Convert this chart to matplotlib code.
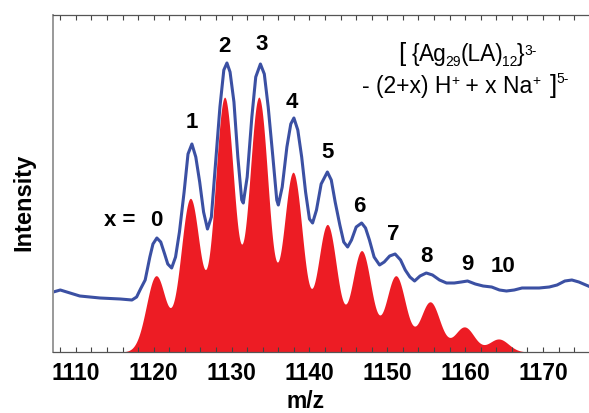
import numpy as np
import matplotlib
matplotlib.use("Agg")
import matplotlib.pyplot as plt

plt.rcParams['font.family'] = ['Liberation Sans', 'DejaVu Sans']

# ---- data ----
# simulated pattern: peak centres (m/z) and relative heights
sim_mz = [1120.3, 1124.7, 1129.1, 1133.5, 1137.9, 1142.3, 1146.7, 1151.1, 1155.5, 1159.9, 1164.3]
sim_height = [76, 153, 254, 254, 179, 127, 101, 76, 50, 25, 13]
sim_sigma = 1.25

exp_mz = [1107.1, 1108.0, 1110.5, 1113.1, 1115.7, 1117.2, 1117.8, 1118.3, 1118.9, 1119.5,
          1119.9, 1120.4, 1120.9, 1121.4, 1121.8, 1122.3, 1122.8, 1123.3, 1123.9, 1124.4,
          1124.9, 1125.4, 1125.9, 1126.4, 1126.9, 1127.4, 1127.9, 1128.5, 1129.0, 1129.4,
          1129.8, 1130.3, 1130.8, 1131.3, 1131.5, 1132.0, 1132.6, 1133.1, 1133.7, 1134.2,
          1134.7, 1135.3, 1135.8, 1136.0, 1136.5, 1137.1, 1137.6, 1138.0, 1138.5, 1139.0,
          1139.5, 1140.0, 1140.4, 1140.9, 1141.5, 1142.3, 1142.8, 1143.3, 1143.9, 1144.4,
          1144.9, 1145.4, 1146.0, 1146.7, 1147.2, 1147.7, 1148.3, 1149.0, 1149.6, 1150.3,
          1151.0, 1151.7, 1152.3, 1152.9, 1153.5, 1154.2, 1155.0, 1155.8, 1156.7, 1157.6,
          1158.6, 1159.5, 1160.3, 1161.3, 1162.3, 1163.4, 1164.4, 1165.3, 1166.3, 1167.3,
          1168.2, 1169.5, 1170.8, 1171.8, 1172.8, 1173.7, 1174.6, 1175.8]
exp_int = [60, 62, 56, 54, 53, 52, 55, 63, 72, 95,
           108, 114, 110, 98, 88, 84, 95, 120, 160, 198,
           208, 195, 170, 140, 123, 135, 185, 245, 282, 289,
           280, 250, 195, 152, 149, 175, 235, 275, 288, 278,
           245, 195, 152, 147, 165, 205, 228, 234, 222, 195,
           160, 133, 129, 142, 168, 180, 172, 150, 127, 110,
           105, 112, 125, 129, 124, 112, 95, 87, 90, 96,
           98, 92, 82, 75, 71, 76, 79, 77, 72, 69,
           69, 70, 71, 68, 66, 65, 62, 61, 62, 64,
           64, 64, 65, 67, 71, 72, 70, 66]

peak_labels = ['0', '1', '2', '3', '4', '5', '6', '7', '8', '9', '10']
xticks = [1110, 1120, 1130, 1140, 1150, 1160, 1170]

# ---- figure ----
W, H = 589, 413
fig = plt.figure(figsize=(W / 100, H / 100), dpi=100)
ax = fig.add_axes([53.3 / W, 1 - 352 / H, 1 - 53.3 / W, (352 - 15) / H])

grid = np.linspace(1106, 1177, 3000)
sim = np.zeros_like(grid)
for m, h in zip(sim_mz, sim_height):
    sim += h * np.exp(-(grid - m) ** 2 / (2 * sim_sigma ** 2))
ax.fill_between(grid, 0, sim, color='#ED1C24', linewidth=0)
ax.plot(exp_mz, exp_int, color='#3B50A3', lw=2.2, solid_joinstyle='round')

ax.set_xlim(1107.1, 1175.9)
ax.set_ylim(0, 337)
ax.set_yticks([])
ax.set_xticks(xticks)
ax.set_xticks(np.arange(1108, 1176, 2), minor=True)
ax.tick_params(axis='x', which='both', direction='in', top=True, bottom=True,
               length=3.5, width=0.8, color='#444444')
ax.tick_params(axis='x', which='major', labelsize=16.5, pad=7)
for lab in ax.get_xticklabels():
    lab.set_fontweight('bold')
ax.spines['right'].set_visible(False)
ax.spines['left'].set_color('#999999')
ax.spines['left'].set_linewidth(1.4)
for s in ('top', 'bottom'):
    ax.spines[s].set_color('#555555')
    ax.spines[s].set_linewidth(0.9)

fig.text(24 / W, 1 - 202 / H, 'Intensity', rotation=90, fontsize=17, fontweight='bold',
         ha='center', va='center')
fig.text(306 / W, 1 - 401 / H, 'm/z', fontsize=16.5, fontweight='bold',
         ha='center', va='center')

# peak labels
lab_x = [1120.27, 1124.9, 1129.1, 1133.9, 1137.7, 1142.3, 1146.4, 1150.8, 1155.0, 1160.3, 1164.9]
lab_y = [131, 230, 306, 307, 249, 200, 145, 118, 96, 88, 85]
for t, lx, ly in zip(peak_labels, lab_x, lab_y):
    ax.text(lx, ly, t, fontsize=16, fontweight='bold', ha='center', va='center')
ax.text(1117.6, 131, 'x =', fontsize=16, fontweight='bold', ha='right', va='center')

# formula annotation, built piece by piece (pixel coords from top-left)
renderer = fig.canvas.get_renderer()


def chain(x0, base, pieces):
    x = x0
    for txt, size, rise, gap in pieces:
        x += gap
        t = fig.text(x / W, 1 - (base - rise) / H, txt, fontsize=size,
                     ha='left', va='baseline')
        bb = t.get_window_extent(renderer)
        x = bb.x1


f1, f2, ss = 16.3, 16.5, 10
chain(398, 61, [('[', 18.5, 0, 0), ('{', f1, 0, 6), ('Ag', f1, 0, 0), ('29', ss, -5, -1.5),
                ('(LA)', f1, 0, -0.5), ('12', ss, -5, -1), ('}', f1, 0, -0.5), ('3-', ss, 6, 0)])
chain(362, 93, [('- (2+x) H', f2, 0, 0), ('+', ss, 8, 0), (' + x Na', f2, 0, 0),
                ('+', ss, 8, 0), (']', 18.5, 0, 9), ('5-', ss, 10, 0)])

fig.savefig('out.png', dpi=100)
